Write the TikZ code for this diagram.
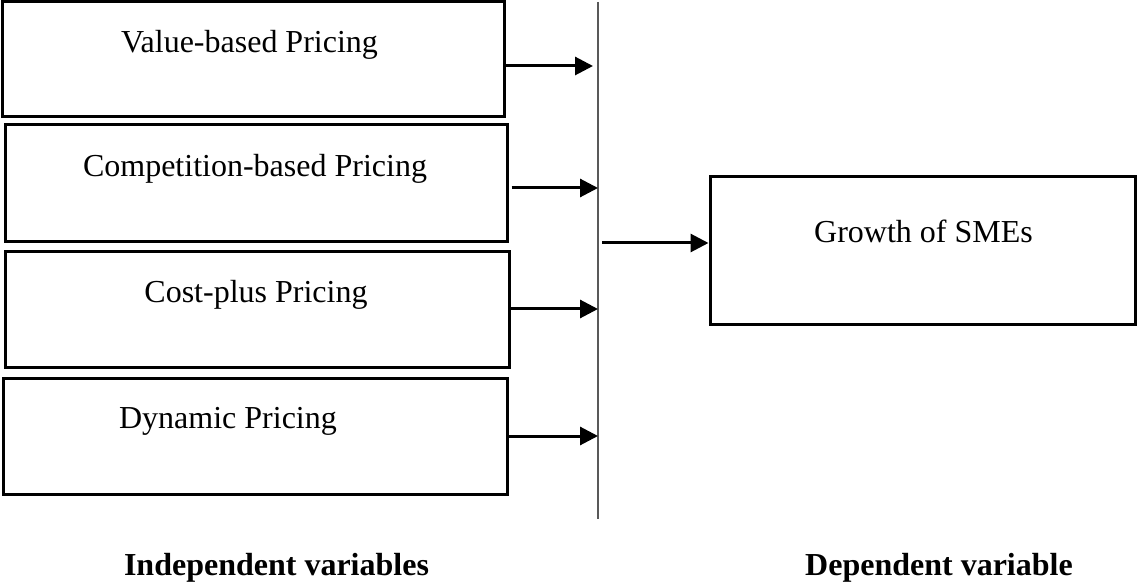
\documentclass[tikz,border=0pt]{standalone}
\usepackage{fontspec}
\setmainfont{Liberation Serif}
\usetikzlibrary{arrows.meta}

\tikzset{
  varbox/.style={draw=black, line width=3pt, rectangle, inner sep=0pt, fill=white},
  boxtext/.style={anchor=base, inner sep=0pt, font=\fontsize{32}{38}\selectfont},
  caption/.style={anchor=base, inner sep=0pt, font=\fontsize{32}{38}\selectfont\bfseries},
  link/.style={line width=3pt, -{Triangle[length=18pt,width=18pt]}},
  divider/.style={draw=black!65, line width=2pt}
}

\begin{document}
\begin{tikzpicture}[x=1pt, y=-1pt]
  \useasboundingbox (0,0) rectangle (1138,585);

  % independent variables
  \node[varbox, minimum width=502pt, minimum height=115pt] (b1) at (253,59.5) {};
  \node[varbox, minimum width=502pt, minimum height=117pt] (b2) at (256,183.5) {};
  \node[varbox, minimum width=504pt, minimum height=115pt] (b3) at (257,309.5) {};
  \node[varbox, minimum width=504pt, minimum height=116pt] (b4) at (255,436) {};

  \node[boxtext] (t1) at (249.5,53) {Value-based Pricing};
  \node[boxtext] (t2) at (255,177) {Competition-based Pricing};
  \node[boxtext] (t3) at (256,303) {Cost-plus Pricing};
  \node[boxtext] (t4) at (228,428) {Dynamic Pricing};

  % dependent variable
  \node[varbox, minimum width=425pt, minimum height=148pt] (g) at (922.5,251) {};
  \node[boxtext] (tg) at (923.5,243) {Growth of SMEs};

  % dividing line
  \coordinate (vtop) at (598,2);
  \coordinate (vbot) at (598,519);
  \draw[divider] (vtop) -- (vbot);

  % arrows into the dividing line
  \draw[link] ([yshift=-6.5pt]b1.east) -- ([yshift=-6.5pt,xshift=-5pt]b1.east -| vtop);
  \draw[link] ([yshift=-4.5pt,xshift=3pt]b2.east) -- ([yshift=-4.5pt]b2.east -| vtop);
  \draw[link] ([yshift=0.5pt]b3.east) -- ([yshift=0.5pt]b3.east -| vtop);
  \draw[link] (b4.east) -- (b4.east -| vtop);

  % arrow to the dependent variable
  \draw[link] ([xshift=4pt,yshift=8pt]g.west -| vtop) -- ([yshift=8pt]g.west);

  % captions
  \node[caption] (lind) at (276.5,575) {Independent variables};
  \node[caption] (ldep) at (939,575) {Dependent variable};
\end{tikzpicture}
\end{document}
